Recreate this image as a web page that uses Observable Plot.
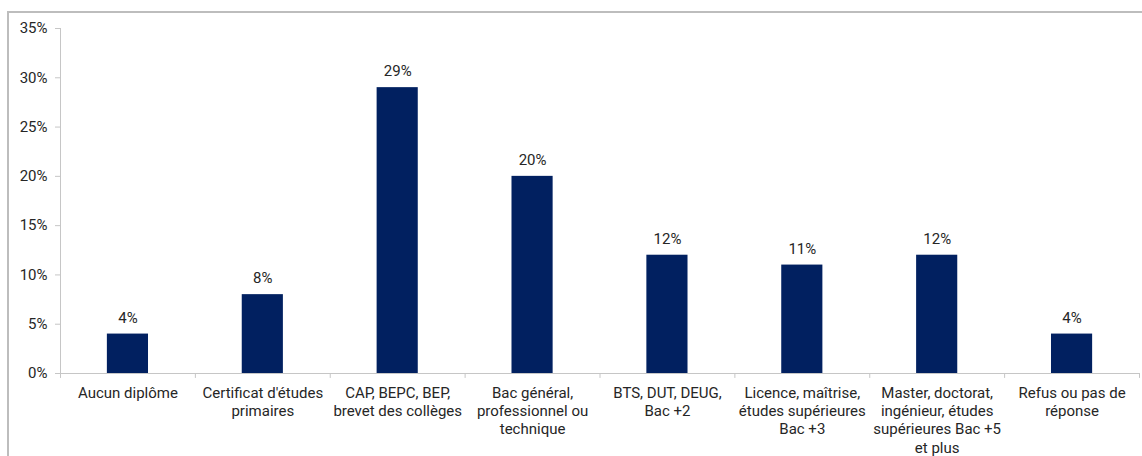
<!DOCTYPE html>
<html>
<head>
<meta charset="utf-8">
<script src="https://cdn.jsdelivr.net/npm/d3@7"></script>
<script src="https://cdn.jsdelivr.net/npm/@observablehq/plot@0.6"></script>
<style>
  html, body { margin: 0; padding: 0; background: #fff; overflow: hidden; }
  #wrap { position: relative; width: 1142px; height: 456px; }
  #frame { position: absolute; left: 7px; top: 11px; width: 1200px; height: 600px; border: 2px solid #bdbdbd; box-sizing: border-box; }
  #chart { position: absolute; left: 0; top: 0; }
</style>
</head>
<body>
<div id="wrap"><div id="frame"></div><div id="chart"></div></div>
<script>
const categories = [
  "Aucun diplôme",
  "Certificat d'études\nprimaires",
  "CAP, BEPC, BEP,\nbrevet des collèges",
  "Bac général,\nprofessionnel ou\ntechnique",
  "BTS, DUT, DEUG,\nBac +2",
  "Licence, maîtrise,\nétudes supérieures\nBac +3",
  "Master, doctorat,\ningénieur, études\nsupérieures Bac +5\net plus",
  "Refus ou pas de\nréponse"
];
const values = [4, 8, 29, 20, 12, 11, 12, 4];
const yTicks = [0, 5, 10, 15, 20, 25, 30, 35];

const data = categories.map((c, i) => ({cat: c, value: values[i]}));

const W = 1142, H = 456, mL = 60, mR = 3, mT = 28, mB = 83;
const bw = (W - mL - mR) / categories.length;
const boundaries = [...categories.map(c => ({cat: c, side: -1})), {cat: categories[categories.length - 1], side: 1}];

const chart = Plot.plot({
  width: W,
  height: H,
  marginLeft: mL,
  marginRight: mR,
  marginTop: mT,
  marginBottom: mB,
  style: {fontFamily: "Roboto, sans-serif", fontSize: "15px", color: "#262626", background: "transparent"},
  x: {domain: categories, paddingInner: 0.695, paddingOuter: 0.3475, align: 0.5, round: false, axis: null, label: null},
  y: {domain: [0, 35], axis: null, label: null},
  marks: [
    Plot.frame({anchor: "left", stroke: "#c6c6c6"}),
    Plot.axisY({ticks: yTicks, tickFormat: d => d + "%", tickSize: 5, tickPadding: 8, stroke: "#c6c6c6", fontSize: 15, fill: "#262626", label: null}),
    Plot.barY(data, {x: "cat", y: "value", fill: "#012060"}),
    Plot.ruleY([0], {stroke: "#c6c6c6"}),
    ...boundaries.map(b => Plot.ruleX([b], {x: "cat", y1: 0, y2: -0.5, dx: b.side * bw / 2, stroke: "#c6c6c6", clip: false})),
    Plot.text(data, {x: "cat", y: "value", text: d => d.value + "%", dy: -16, fontSize: 15, fill: "#262626"}),
    Plot.text(data, {x: "cat", y: 0, text: "cat", dy: 11, lineAnchor: "top", lineHeight: 1.23, fontSize: 15, fill: "#262626", clip: false})
  ]
});
document.getElementById("chart").appendChild(chart);
</script>
</body>
</html>
